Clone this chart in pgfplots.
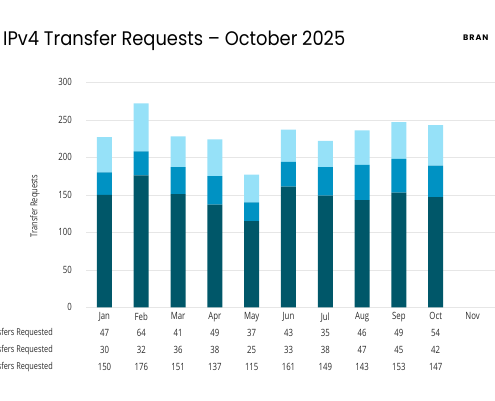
\documentclass[border=0pt]{standalone}
\usepackage{fontspec}
\usepackage{graphicx}
\setmainfont{Open Sans}[FakeStretch=0.78]
\newfontfamily\titlefont{Poppins}
\newfontfamily\logofont{Poppins Bold}[LetterSpace=12]
\usepackage{pgfplots}
\pgfplotsset{compat=1.18}
\definecolor{cdark}{HTML}{005769}
\definecolor{cmid}{HTML}{0092C3}
\definecolor{clight}{HTML}{96E1F8}
\definecolor{tickgray}{HTML}{2A2A2A}
\definecolor{gridgray}{HTML}{E6E6E6}
\begin{document}
\begin{tikzpicture}[x=1pt,y=1pt]
\path[use as bounding box] (0,0) rectangle (495,400);
\node[anchor=base west,inner sep=0pt] at (3,355) {\resizebox{342pt}{15pt}{\titlefont IPv4 Transfer Requests – October 2025}};
\node[anchor=base west,inner sep=0pt] at (463,359.5) {\fontsize{8}{9}\selectfont\logofont BRAN};
\begin{axis}[
  at={(86pt,92.7pt)}, anchor=south west,
  scale only axis, width=409pt, height=225pt,
  ybar stacked, bar width=15pt,
  xmin=-0.5, xmax=10.61, ymin=0, ymax=300,
  ytick={0,50,...,300},
  xtick={0,...,10},
  xticklabels={Jan,Feb,Mar,Apr,May,Jun,Jul,Aug,Sep,Oct,Nov},
  axis line style={draw=none},
  major tick length=0pt,
  ymajorgrids, grid style={gridgray, line width=0.6pt},
  tick label style={font=\fontsize{10}{11}\selectfont, text=tickgray},
  yticklabel style={inner sep=0pt, anchor=east, xshift=-14pt},
  xticklabel style={inner sep=0pt, anchor=north, yshift=-5pt},
  /pgf/number format/assume math mode=true,
  clip=false,
]
\addplot[fill=cdark, draw=none] coordinates {(0,150) (1,176) (2,151) (3,137) (4,115) (5,161) (6,149) (7,143) (8,153) (9,147)};
\addplot[fill=cmid, draw=none] coordinates {(0,30) (1,32) (2,36) (3,38) (4,25) (5,33) (6,38) (7,47) (8,45) (9,42)};
\addplot[fill=clight, draw=none] coordinates {(0,47) (1,64) (2,41) (3,49) (4,37) (5,43) (6,35) (7,46) (8,49) (9,54)};
\end{axis}
\node[rotate=90, text=tickgray, font=\fontsize{9.5}{10}\selectfont] at (35,194) {Transfer Requests};
\begin{scope}[every node/.style={text=tickgray, font=\fontsize{10}{11}\selectfont, inner sep=0pt}]
\node[anchor=east, font=\fontsize{9.4}{11}\selectfont] at (53,67) {Inter-RIR Transfers Requested};
\node[anchor=east, font=\fontsize{9.4}{11}\selectfont] at (53,50) {Intra-RIR Transfers Requested};
\node[anchor=east, font=\fontsize{9.4}{11}\selectfont] at (53,33) {Total Transfers Requested};
\foreach \v [count=\i from 0] in {47,64,41,49,37,43,35,46,49,54} \node at (104.5+36.8*\i,67) {\v};
\foreach \v [count=\i from 0] in {30,32,36,38,25,33,38,47,45,42} \node at (104.5+36.8*\i,50) {\v};
\foreach \v [count=\i from 0] in {150,176,151,137,115,161,149,143,153,147} \node at (104.5+36.8*\i,33) {\v};
\end{scope}
\end{tikzpicture}
\end{document}
